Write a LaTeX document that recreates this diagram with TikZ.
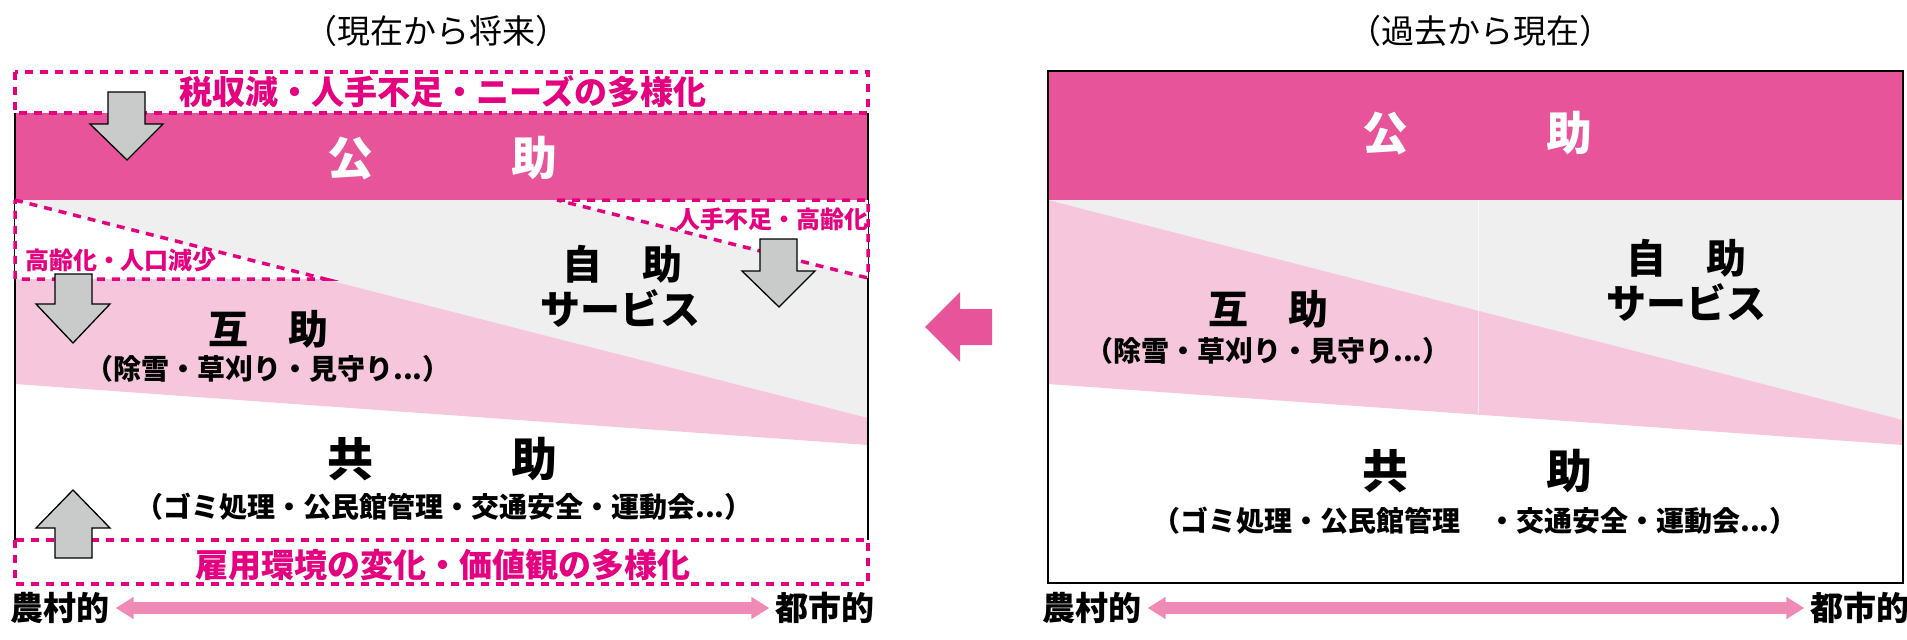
\documentclass[tikz,border=0pt]{standalone}
\usepackage{fontspec}
\setmainfont{Noto Sans CJK JP}
\usetikzlibrary{arrows.meta}
\definecolor{band}{HTML}{E8549A}
\definecolor{lpink}{HTML}{F6C7DC}
\definecolor{lgray}{HTML}{EFEFEF}
\definecolor{mag}{HTML}{E4007F}
\definecolor{agray}{HTML}{C9CACA}
\definecolor{axpink}{HTML}{EF8AB6}
\tikzset{
  bold/.style={font=\bfseries\fontsize{#1}{#1}\selectfont, inner sep=0pt},
  reg/.style={font=\fontsize{#1}{#1}\selectfont, inner sep=0pt},
  magtxt/.style={bold=#1, text=mag},
  dbox/.style={draw=mag, line width=3.5pt, dash pattern=on 8pt off 7pt, fill=white},
  blockarrow/.style={fill=agray, draw=black, line width=1.3pt, line join=miter},
  axarrow/.style={draw=axpink, line width=12pt, {Triangle[length=18pt,width=21pt]}-{Triangle[length=18pt,width=21pt]}},
}
\begin{document}
\begin{tikzpicture}[x=1pt,y=-1pt]
\useasboundingbox (0,0) rectangle (1907,640);
% ---------- left panel ----------
\fill[lgray] (15,200) -- (868,200) -- (868,418) -- cycle;
\fill[lpink] (15,200) -- (868,418) -- (868,445) -- (15,384) -- cycle;
\fill[band] (15,113) rectangle (868,200);
\draw[black, line width=1.5pt] (15,113) -- (15,540) (868,113) -- (868,540);
\draw[dbox] (15,200) -- (325,279) -- (15,279) -- cycle;
\draw[dbox] (557,200) -- (868,200) -- (868,278) -- cycle;
\draw[dbox] (15,72) rectangle (868,113);
\draw[dbox] (15,540) rectangle (868,584);

\node[reg=33] (titleL) at (436,31) {（現在から将来）};
\node[magtxt=33] (topL) at (443,92) {税収減・人手不足・ニーズの多様化};
\node[bold=46, text=white] (kojoL) at (442,158) {公　　　助};
\node[magtxt=24] (jinteL) at (772,219) {人手不足・高齢化};
\node[magtxt=24] (koreiL) at (121,260) {高齢化・人口減少};
\node[bold=40] (jijoL) at (622,264) {自　助};
\node[bold=40] (jsvL) at (620,308) {サービス};
\node[bold=40] (gojoL) at (268,329) {互　助};
\node[bold=28] (gojosubL) at (268,369) {（除雪・草刈り・見守り...）};
\node[bold=46] (kyojoL) at (442,459) {共　　　助};
\node[bold=28] (kyosubL) at (444,507) {（ゴミ処理・公民館管理・交通安全・運動会...）};
\node[magtxt=33] (botL) at (443,565) {雇用環境の変化・価値観の多様化};
\node[bold=33] (nosonL) at (60,608) {農村的};
\node[bold=33] (toshiL) at (825,608) {都市的};
\draw[axarrow] ([xshift=6pt]nosonL.east) -- ([xshift=-6pt]toshiL.west);

\draw[blockarrow] (108,92) -- (145,92) -- (145,124) -- (163,124) -- (127,160) -- (90,124) -- (108,124) -- cycle;
\draw[blockarrow] (55,274) -- (92,274) -- (92,304) -- (110,304) -- (73,343) -- (36,304) -- (55,304) -- cycle;
\draw[blockarrow] (760,239) -- (797,239) -- (797,271) -- (815,271) -- (779,307) -- (742,271) -- (760,271) -- cycle;
\draw[blockarrow] (73,490) -- (110,528) -- (92,528) -- (92,558) -- (55,558) -- (55,528) -- (36,528) -- cycle;

% ---------- middle arrow ----------
\fill[band] (925,327) -- (960,292) -- (960,309) -- (992,309) -- (992,345) -- (960,345) -- (960,362) -- cycle;

% ---------- right panel ----------
\fill[band] (1048,71) rectangle (1903,200);
\fill[lgray] (1048,200) -- (1903,200) -- (1903,420) -- cycle;
\fill[lpink] (1048,200) -- (1903,420) -- (1903,445) -- (1048,384) -- cycle;
\draw[white, opacity=0.6, line width=1pt] (1478,200) -- (1478,413);
\draw[black, line width=1.5pt] (1048,71) rectangle (1903,583);

\node[reg=33] (titleR) at (1480,31) {（過去から現在）};
\node[bold=46, text=white] (kojoR) at (1477,133) {公　　　助};
\node[bold=40] (jijoR) at (1686,258) {自　助};
\node[bold=40] (jsvR) at (1686,302) {サービス};
\node[bold=40] (gojoR) at (1268,309) {互　助};
\node[bold=28] (gojosubR) at (1268,351) {（除雪・草刈り・見守り...）};
\node[bold=46] (kyojoR) at (1477,471) {共　　　助};
\node[bold=28] (kyosubR) at (1475,521) {（ゴミ処理・公民館管理　・交通安全・運動会...）};
\node[bold=33] (nosonR) at (1092,608) {農村的};
\node[bold=33] (toshiR) at (1860,608) {都市的};
\draw[axarrow] ([xshift=6pt]nosonR.east) -- ([xshift=-6pt]toshiR.west);
\end{tikzpicture}
\end{document}
